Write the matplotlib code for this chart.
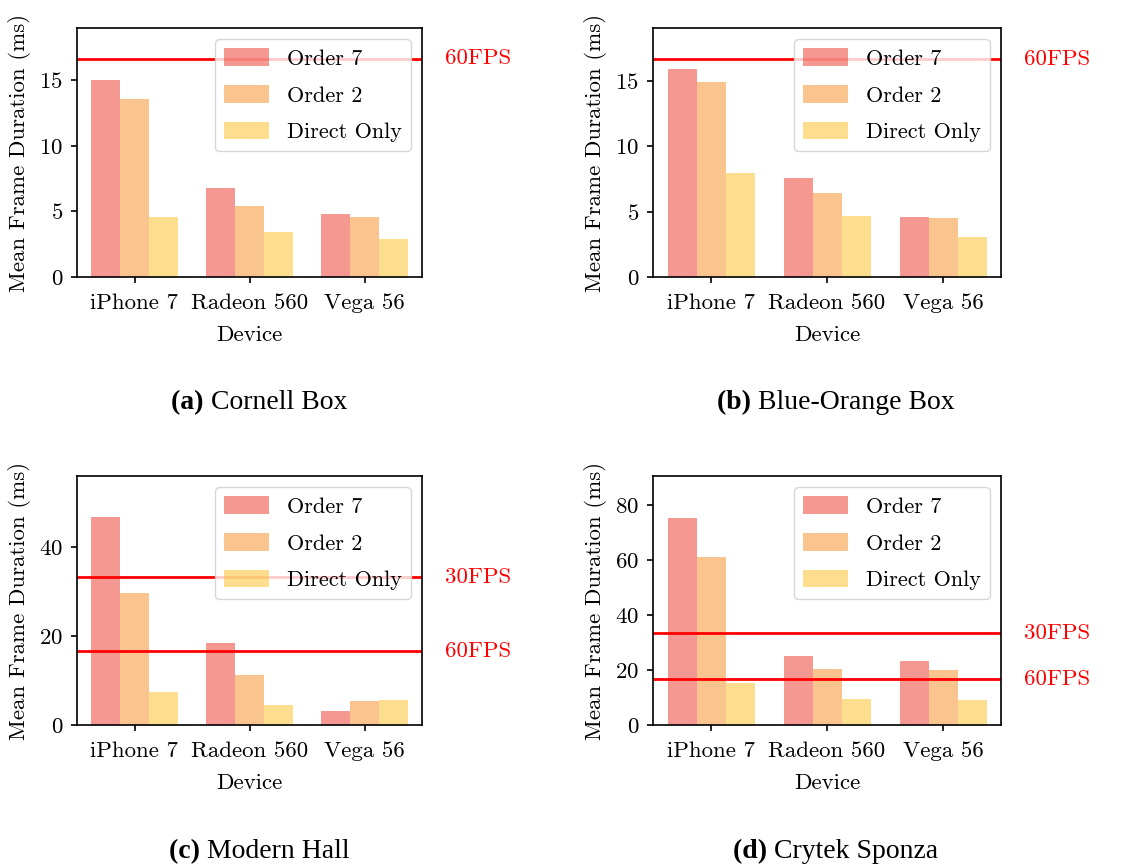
import matplotlib
matplotlib.use("Agg")
import matplotlib.pyplot as plt
import numpy as np

plt.rcParams['font.family'] = ['cmr10', 'DejaVu Serif']
plt.rcParams['axes.formatter.use_mathtext'] = True
plt.rcParams['mathtext.fontset'] = 'cm'
plt.rcParams['font.size'] = 16.5
plt.rcParams['axes.linewidth'] = 1.2
plt.rcParams['xtick.major.width'] = 1.2
plt.rcParams['ytick.major.width'] = 1.2
plt.rcParams['xtick.major.size'] = 4.5
plt.rcParams['ytick.major.size'] = 4.5
plt.rcParams['xtick.major.pad'] = 7.5
plt.rcParams['ytick.major.pad'] = 5.5

devices = ["iPhone 7", "Radeon 560", "Vega 56"]
series_names = ["Order 7", "Order 2", "Direct Only"]
series_colors = ["#EB3324", "#F68A1E", "#FBBF1F"]

# Mean frame durations (ms) per scene: rows = series, columns = devices
cornell_box = [[15.0, 6.8, 4.8],
               [13.6, 5.4, 4.6],
               [4.6, 3.4, 2.9]]
blue_orange_box = [[15.9, 7.6, 4.6],
                   [14.95, 6.4, 4.5],
                   [8.0, 4.7, 3.05]]
modern_hall = [[46.7, 18.5, 3.2],
               [29.6, 11.3, 5.5],
               [7.4, 4.6, 5.7]]
crytek_sponza = [[75.4, 25.2, 23.3],
                 [61.1, 20.4, 20.1],
                 [15.4, 9.6, 9.2]]

scene_titles = ["Cornell Box", "Blue-Orange Box", "Modern Hall", "Crytek Sponza"]
panel_tags = ["(a)", "(b)", "(c)", "(d)"]
scene_data = [cornell_box, blue_orange_box, modern_hall, crytek_sponza]
y_limits = [19.0, 19.08, 56.0, 90.5]
y_ticks = [[0, 5, 10, 15], [0, 5, 10, 15], [0, 20, 40], [0, 20, 40, 60, 80]]
fps_lines = [[("60FPS", 1000 / 60)],
             [("60FPS", 1000 / 60)],
             [("30FPS", 1000 / 30), ("60FPS", 1000 / 60)],
             [("30FPS", 1000 / 30), ("60FPS", 1000 / 60)]]

W, H = 1137, 868
fig = plt.figure(figsize=(W / 100, H / 100), dpi=100)

# axes boxes in pixels: left, right, top, bottom
boxes = [(77, 422, 28, 277), (653, 1001, 28, 277),
         (77, 422, 476, 725), (653, 1001, 476, 725)]
caption_pos = [(259, 409), (836, 409), (259, 858), (836, 858)]

x = np.arange(len(devices))
width = 0.25

for i in range(4):
    l, r, t, b = boxes[i]
    ax = fig.add_axes([l / W, 1 - b / H, (r - l) / W, (b - t) / H])
    for k, (name, col) in enumerate(zip(series_names, series_colors)):
        ax.bar(x + (k - 1) * width, scene_data[i][k], width,
               color=col, alpha=0.5, label=name)
    for lbl, yv in fps_lines[i]:
        ax.axhline(yv, color="red", linewidth=2.0)
        ax.annotate(lbl, xy=(1, yv), xycoords=("axes fraction", "data"),
                    xytext=(23, 0), textcoords="offset pixels",
                    ha="left", va="center", color="red", fontsize=16.5)
    ax.set_xlim(-0.5, 2.5)
    ax.set_ylim(0, y_limits[i])
    ax.set_yticks(y_ticks[i])
    ax.set_xticks(x)
    ax.set_xticklabels(devices)
    ax.set_xlabel("Device", labelpad=9)
    ax.set_ylabel("Mean Frame Duration (ms)", labelpad=6)
    ax.legend(loc="upper right", fontsize=16, labelspacing=0.72,
              borderpad=0.42, handleheight=0.85, handletextpad=0.8)

    cx, cy = caption_pos[i]
    tag = fig.text(0, 0, panel_tags[i] + " ", fontsize=20, fontweight="bold",
                   family="Liberation Serif")
    cap = fig.text(0, 0, scene_titles[i], fontsize=20, family="Liberation Serif")
    fig.canvas.draw()
    rend = fig.canvas.get_renderer()
    w1 = tag.get_window_extent(rend).width
    w2 = cap.get_window_extent(rend).width
    x0 = cx - (w1 + w2) / 2
    tag.set_position((x0 / W, 1 - cy / H))
    cap.set_position(((x0 + w1) / W, 1 - cy / H))

fig.savefig("out.png", dpi=100)
